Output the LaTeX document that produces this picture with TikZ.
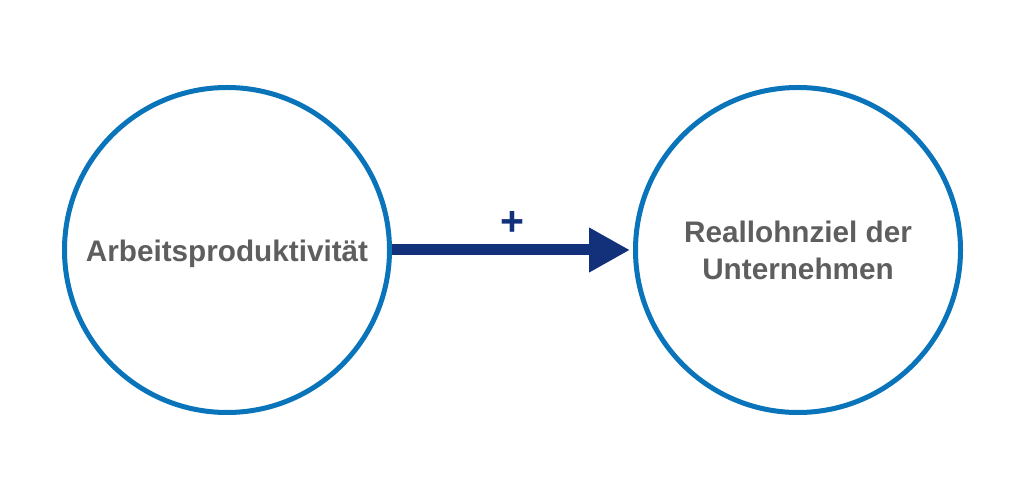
\documentclass[tikz,border=0pt]{standalone}
\usepackage{fontspec}
\setmainfont{Liberation Sans}
\usetikzlibrary{arrows.meta}
\definecolor{ringblue}{HTML}{0A74BA}
\definecolor{navy}{HTML}{13307A}
\definecolor{labelgray}{HTML}{5E5E5E}
\begin{document}
\begin{tikzpicture}[x=1pt,y=1pt,
  ring/.style={circle, draw=ringblue, line width=5pt, minimum size=325pt, inner sep=0pt,
    text=labelgray, font=\bfseries\fontsize{29.7}{37}\selectfont, align=center},
  link/.style={draw=navy, line width=11pt, -{Triangle[length=41pt,width=42pt]}},
  sign/.style={text=navy, font=\bfseries\fontsize{41}{41}\selectfont, inner sep=0pt}]
\useasboundingbox (0,0) rectangle (1024,500);
\node[ring, text height=24pt, text depth=0pt] (A) at (227,250) {Arbeitsproduktivität};
\node[ring] (B) at (798,250) {Reallohnziel der\\Unternehmen};
\draw[link, shorten >=3pt] (A.east) -- (B.west);
\node[sign] (plus) at (512,277) {+};
\end{tikzpicture}
\end{document}
